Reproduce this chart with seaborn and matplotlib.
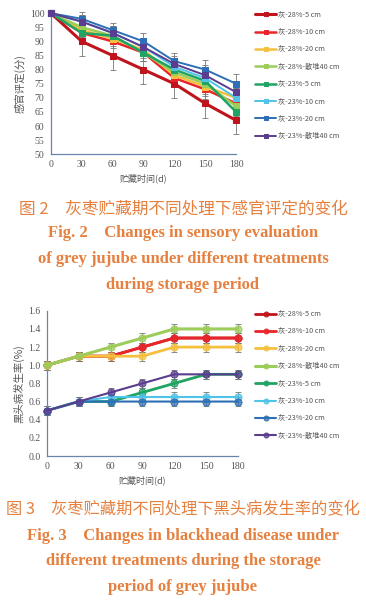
import matplotlib
matplotlib.use("Agg")
import matplotlib.pyplot as plt
import seaborn as sns
import pandas as pd

sns.set_style("white")
plt.rcParams['font.family'] = ['Noto Sans CJK SC', 'DejaVu Sans']

days = [0, 30, 60, 90, 120, 150, 180]
labels = ["灰-28%-5 cm", "灰-28%-10 cm", "灰-28%-20 cm", "灰-28%-散堆40 cm",
          "灰-23%-5 cm", "灰-23%-10 cm", "灰-23%-20 cm", "灰-23%-散堆40 cm"]
colors = ["#c0141c", "#e8262a", "#f4c03e", "#9ccc5a",
          "#1fa463", "#4fc3e8", "#2e6fb5", "#5b3d8f"]

# sensory evaluation (score)
sens_28_5 = [100, 90, 85, 80, 75, 68, 62]
sens_28_10 = [100, 93, 90, 86, 77, 73, 68]
sens_28_20 = [100, 94, 91, 87, 78, 74, 70]
sens_28_40 = [100, 95, 92, 86, 79, 75, 67]
sens_23_5 = [100, 93, 92, 86, 80, 76, 65]
sens_23_10 = [100, 97, 93, 88, 81, 77, 70]
sens_23_20 = [100, 98, 94, 90, 83, 80, 75]
sens_23_40 = [100, 97, 93, 88, 82, 78, 72]
sens_err_big = [0, 5, 5, 5, 5, 5, 5]
sens_err_small = [0, 2.5, 2.5, 3, 3, 3.5, 3.5]

# blackhead incidence (%)
bh_28_5 = [1.0, 1.1, 1.1, 1.2, 1.3, 1.3, 1.3]
bh_28_10 = [1.0, 1.1, 1.1, 1.2, 1.3, 1.3, 1.3]
bh_28_20 = [1.0, 1.1, 1.1, 1.1, 1.2, 1.2, 1.2]
bh_28_40 = [1.0, 1.1, 1.2, 1.3, 1.4, 1.4, 1.4]
bh_23_5 = [0.5, 0.6, 0.6, 0.7, 0.8, 0.9, 0.9]
bh_23_10 = [0.5, 0.6, 0.65, 0.65, 0.65, 0.65, 0.65]
bh_23_20 = [0.5, 0.6, 0.6, 0.6, 0.6, 0.6, 0.6]
bh_23_40 = [0.5, 0.6, 0.7, 0.8, 0.9, 0.9, 0.9]
bh_err = [0.05, 0.05, 0.05, 0.05, 0.05, 0.05, 0.05]

sens_series = [sens_28_5, sens_28_10, sens_28_20, sens_28_40,
               sens_23_5, sens_23_10, sens_23_20, sens_23_40]
sens_errs = [sens_err_big, sens_err_small, sens_err_small, sens_err_small,
             sens_err_small, sens_err_small, sens_err_small, sens_err_small]
bh_series = [bh_28_5, bh_28_10, bh_28_20, bh_28_40,
             bh_23_5, bh_23_10, bh_23_20, bh_23_40]

cap_color = "#e5803f"
tick_color = "#555555"
spine_color = "#6b84ad"
serif = ['Liberation Serif', 'DejaVu Serif']

fig = plt.figure(figsize=(3.66, 6.00), dpi=100)
ax1 = fig.add_axes([0.139, 0.743, 0.506, 0.235])
ax2 = fig.add_axes([0.128, 0.240, 0.522, 0.242])


def draw(ax, series, errs, marker, ms, lw_list, mfc_alpha):
    for i, (vals, lab, col) in enumerate(zip(series, labels, colors)):
        df = pd.DataFrame({"day": days, "val": vals})
        ax.errorbar(days, vals, yerr=errs[i], fmt='none', ecolor='#777777',
                    elinewidth=0.6, capsize=2, capthick=0.6, zorder=1, clip_on=False)
        sns.lineplot(data=df, x="day", y="val", ax=ax, color=col, marker=marker,
                     markersize=ms, linewidth=lw_list[i], markeredgecolor=col,
                     markerfacecolor=matplotlib.colors.to_rgba(col, mfc_alpha),
                     label=lab, zorder=3 + i * 0.1, clip_on=False)


lw1 = [2.2, 1.8, 1.8, 1.8, 1.8, 1.4, 1.4, 1.4]
draw(ax1, sens_series, sens_errs, 's', 4, lw1, 1.0)
draw(ax2, bh_series, [bh_err] * 8, 'o', 5, [2.0, 2.0, 2.0, 2.2, 2.0, 1.5, 1.5, 1.5], 0.7)

for ax in (ax1, ax2):
    ax.set_xlim(0, 180)
    ax.set_xticks(days)
    for s in ("top", "right"):
        ax.spines[s].set_visible(False)
    for s in ("left", "bottom"):
        ax.spines[s].set_color(spine_color)
        ax.spines[s].set_linewidth(0.9)
    ax.tick_params(axis='both', which='both', length=2.5, width=0.6, colors=spine_color,
                   labelcolor=tick_color, labelsize=7, pad=2, direction='out')
    for t in ax.get_xticklabels() + ax.get_yticklabels():
        t.set_fontfamily(serif)
    ax.set_xlabel("贮藏时间(d)", fontsize=6.5, color=tick_color, labelpad=3)

ax1.set_ylim(50, 100)
ax1.set_yticks(list(range(50, 101, 5)))
ax1.set_ylabel("感官评定(分)", fontsize=7.5, color=tick_color, labelpad=3)

ax2.set_ylim(0, 1.6)
ax2.set_yticks([0.0, 0.2, 0.4, 0.6, 0.8, 1.0, 1.2, 1.4, 1.6])
ax2.set_yticklabels(["0.0", "0.2", "0.4", "0.6", "0.8", "1.0", "1.2", "1.4", "1.6"])
for t in ax2.get_yticklabels():
    t.set_fontfamily(serif)
ax2.set_ylabel("黑头病发生率(%)", fontsize=7.5, color=tick_color, labelpad=3)

for ax, y0, sp in ((ax1, 0.987, 1.3), (ax2, 0.488, 1.3)):
    ax.legend(loc='upper left', bbox_to_anchor=(0.69, y0), bbox_transform=fig.transFigure,
              frameon=False, fontsize=5.2, handlelength=2.9, handletextpad=0.25,
              labelspacing=sp, borderaxespad=0, labelcolor='#555555',
              markerscale=0.7)

# captions
fig.text(0.5, 1 - 209 / 600, "图 2　灰枣贮藏期不同处理下感官评定的变化", ha='center', va='center',
         fontsize=12, color=cap_color)
for y, s in ((233, "Fig. 2    Changes in sensory evaluation"),
             (259, "of grey jujube under different treatments"),
             (285, "during storage period")):
    fig.text(0.5, 1 - y / 600, s, ha='center', va='center', fontsize=12,
             fontweight='bold', family=serif, color=cap_color)

fig.text(0.5, 1 - 510 / 600, "图 3　灰枣贮藏期不同处理下黑头病发生率的变化", ha='center', va='center',
         fontsize=11.7, color=cap_color)
for y, s in ((536, "Fig. 3    Changes in blackhead disease under"),
             (561, "different treatments during the storage"),
             (587, "period of grey jujube")):
    fig.text(0.5, 1 - y / 600, s, ha='center', va='center', fontsize=12,
             fontweight='bold', family=serif, color=cap_color)

fig.savefig("out.png", dpi=100)
